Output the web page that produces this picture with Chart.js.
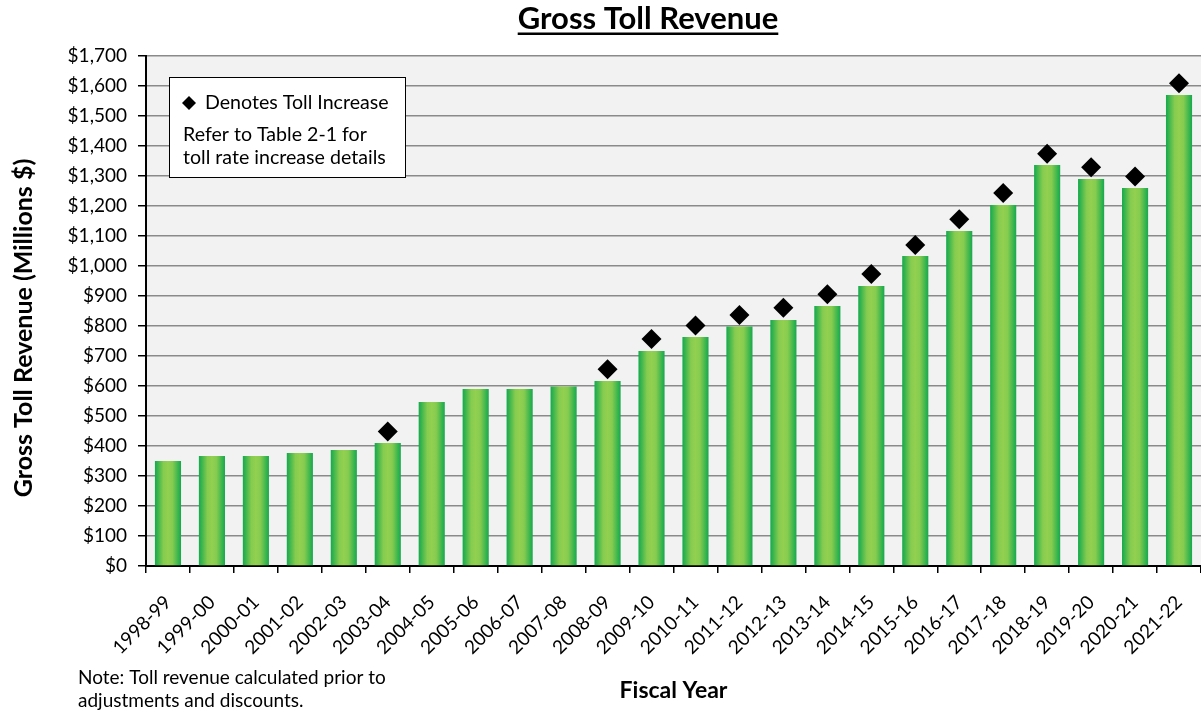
<!DOCTYPE html>
<html>
<head>
<meta charset="utf-8">
<script src="https://cdn.jsdelivr.net/npm/chart.js@4.4.1/dist/chart.umd.min.js"></script>
<style>
  html, body { margin: 0; padding: 0; background: #fff; }
  #wrap { width: 1201px; height: 711px; }
</style>
</head>
<body>
<div id="wrap"><canvas id="chart" width="1201" height="711"></canvas></div>
<script>
const fiscalYears = [
  "1998-99", "1999-00", "2000-01", "2001-02", "2002-03", "2003-04",
  "2004-05", "2005-06", "2006-07", "2007-08", "2008-09", "2009-10",
  "2010-11", "2011-12", "2012-13", "2013-14", "2014-15", "2015-16",
  "2016-17", "2017-18", "2018-19", "2019-20", "2020-21", "2021-22"
];
// gross toll revenue, millions $
const revenue = [
  350, 367, 367, 377, 387, 410, 547, 590, 590, 598, 617, 717,
  763, 798, 820, 867, 933, 1033, 1117, 1203, 1337, 1290, 1260, 1570
];
// diamond markers (years with a toll increase)
const tollIncrease = [
  null, null, null, null, null, 448, null, null, null, null, 656, 757,
  802, 837, 861, 906, 973, 1070, 1156, 1243, 1374, 1329, 1298, 1609
];
const yMin = 0;
const yMax = 1700;
const yStep = 100;

const FONT = "Lato, 'Open Sans', sans-serif";
const BAR_PCT = 0.594;

// light-centre green gradient across each bar
function barGradient(c) {
  const chart = c.chart;
  const xs = chart.scales.x;
  if (!xs || !chart.chartArea || c.type !== "data") return "#5cbf4f";
  const cx = xs.getPixelForValue(c.dataIndex);
  const w = (xs.width / fiscalYears.length) * BAR_PCT;
  const g = chart.ctx.createLinearGradient(cx - w / 2, 0, cx + w / 2, 0);
  g.addColorStop(0, "#14a94d");
  g.addColorStop(0.33, "#86cc4f");
  g.addColorStop(0.5, "#92d050");
  g.addColorStop(0.67, "#86cc4f");
  g.addColorStop(1, "#14a94d");
  return g;
}

const plotBackground = {
  id: "plotBackground",
  beforeDraw(chart) {
    const { ctx, chartArea: a } = chart;
    ctx.save();
    ctx.fillStyle = "#f2f2f2";
    ctx.fillRect(a.left, a.top, a.right - a.left, a.bottom - a.top);
    ctx.restore();
  }
};

const annotations = {
  id: "annotations",
  afterDraw(chart) {
    const ctx = chart.ctx;
    ctx.save();
    // title with underline
    ctx.fillStyle = "#000";
    ctx.font = "bold 31px " + FONT;
    ctx.textAlign = "center";
    ctx.textBaseline = "alphabetic";
    const title = "Gross Toll Revenue";
    ctx.fillText(title, 648, 29);
    const tw = ctx.measureText(title).width;
    ctx.fillRect(648 - tw / 2, 32.5, tw, 2.5);

    // y axis title (sits a little below the plot's middle)
    ctx.save();
    ctx.translate(24, 328);
    ctx.rotate(-Math.PI / 2);
    ctx.font = "bold 25px " + FONT;
    ctx.textBaseline = "middle";
    ctx.fillText("Gross Toll Revenue (Millions $)", 0, 0);
    ctx.restore();

    // legend box
    ctx.fillStyle = "#fff";
    ctx.fillRect(169, 77, 236, 100);
    ctx.strokeStyle = "#000";
    ctx.lineWidth = 1;
    ctx.strokeRect(169.5, 77.5, 236, 100);
    ctx.fillStyle = "#000";
    ctx.beginPath();
    ctx.moveTo(189, 96);
    ctx.lineTo(196, 103);
    ctx.lineTo(189, 110);
    ctx.lineTo(182, 103);
    ctx.closePath();
    ctx.fill();
    ctx.font = "19.6px " + FONT;
    ctx.textAlign = "left";
    ctx.textBaseline = "middle";
    ctx.fillText("Denotes Toll Increase", 205, 103);
    ctx.fillText("Refer to Table 2-1 for", 183, 135);
    ctx.fillText("toll rate increase details", 183, 158);

    // note
    ctx.font = "19px " + FONT;
    ctx.fillText("Note: Toll revenue calculated prior to", 78, 678);
    ctx.fillText("adjustments and discounts.", 78, 701);
    ctx.restore();
  }
};

new Chart(document.getElementById("chart"), {
  type: "bar",
  data: {
    labels: fiscalYears,
    datasets: [
      {
        type: "line",
        label: "Toll Increase",
        data: tollIncrease,
        showLine: false,
        pointStyle: "rectRot",
        pointRadius: 10,
        pointBackgroundColor: "#000",
        pointBorderColor: "#000",
        pointBorderWidth: 0,
        order: 1
      },
      {
        label: "Gross Toll Revenue",
        data: revenue,
        backgroundColor: barGradient,
        borderWidth: 0,
        categoryPercentage: 1,
        barPercentage: BAR_PCT,
        order: 2
      }
    ]
  },
  options: {
    responsive: false,
    animation: false,
    layout: {
      autoPadding: false,
      padding: { top: 56, right: 0, left: 0, bottom: 0 }
    },
    plugins: {
      legend: { display: false },
      tooltip: { enabled: false }
    },
    scales: {
      x: {
        grid: {
          drawOnChartArea: false,
          drawTicks: true,
          tickLength: 7,
          tickColor: "#000",
          lineWidth: 1.5
        },
        border: { color: "#000", width: 2 },
        ticks: {
          minRotation: 45,
          maxRotation: 45,
          color: "#000",
          font: { family: FONT, size: 19 },
          padding: 18
        },
        title: {
          display: true,
          text: "Fiscal Year",
          color: "#000",
          font: { family: FONT, size: 23, weight: "bold" },
          padding: { top: 0, bottom: 7 }
        },
        afterFit(s) {
          s.height = 145;
          s.paddingRight = 0;
        }
      },
      y: {
        min: yMin,
        max: yMax,
        grid: {
          color: "#8a8a8a",
          lineWidth: 1.5,
          tickLength: 8,
          tickColor: "#000"
        },
        border: { color: "#000", width: 2 },
        ticks: {
          stepSize: yStep,
          color: "#000",
          padding: 11,
          font: { family: FONT, size: 19 },
          callback: (v) => "$" + v.toLocaleString("en-US")
        },
        afterFit(s) { s.width = 146; }
      }
    }
  },
  plugins: [plotBackground, annotations]
});
</script>
</body>
</html>
